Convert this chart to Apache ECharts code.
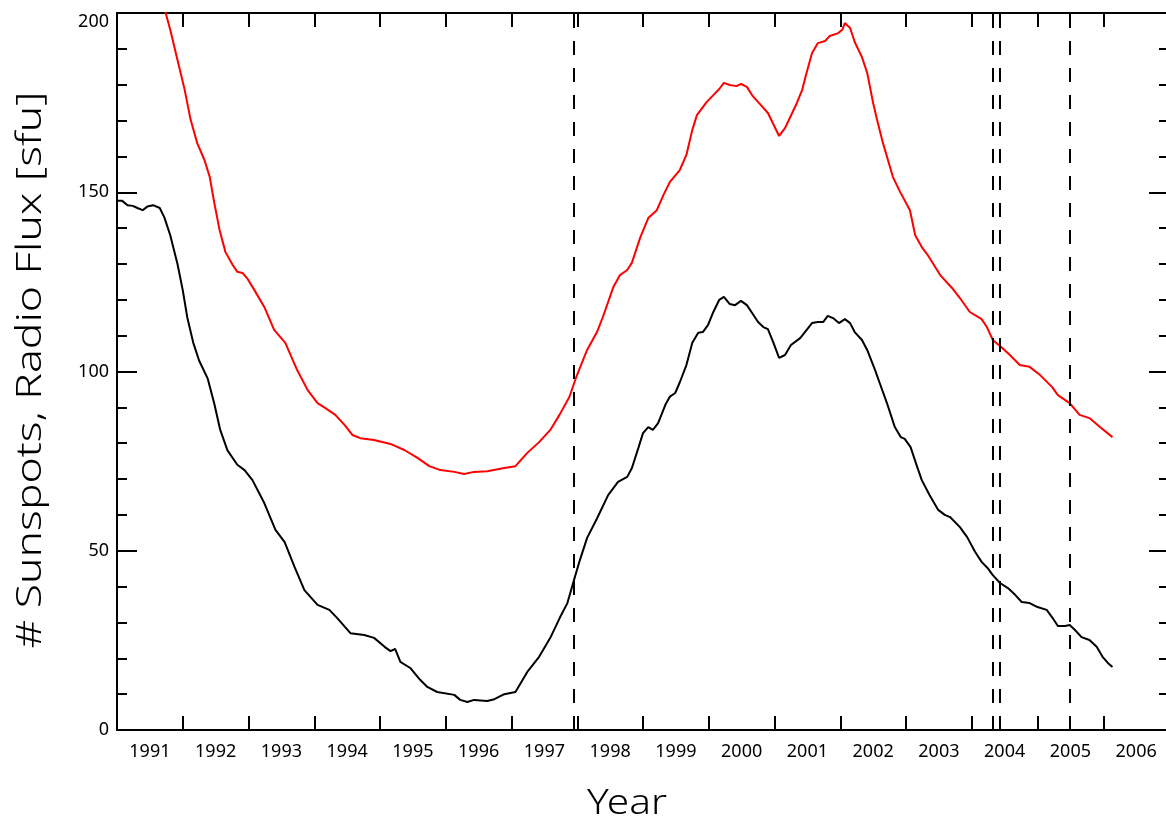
<!DOCTYPE html>
<html>
<head>
<meta charset="utf-8">
<script src="https://cdn.jsdelivr.net/npm/echarts@6/dist/echarts.min.js"></script>
<style>
html,body{margin:0;padding:0;background:#fff;}
#chart{width:1166px;height:818px;}
</style>
</head>
<body>
<div id="chart"></div>
<script>
// Year tick labels (centred on each year)
var yearLabels = ['1991','1992','1993','1994','1995','1996','1997','1998','1999','2000','2001','2002','2003','2004','2005','2006'];
var yTicks = [0, 50, 100, 150, 200];

// Smoothed sunspot number (black)
var sunspotYears = [1990.51,1990.58,1990.66,1990.74,1990.81,1990.89,1990.96,1991.05,1991.15,1991.22,1991.31,1991.42,1991.50,1991.57,1991.66,1991.75,1991.88,1991.98,1992.07,1992.18,1992.33,1992.44,1992.56,1992.74,1992.91,1993.05,1993.20,1993.35,1993.55,1993.73,1993.85,1994.05,1994.26,1994.41,1994.57,1994.66,1994.73,1994.81,1994.96,1995.11,1995.22,1995.37,1995.63,1995.72,1995.83,1995.93,1996.13,1996.24,1996.39,1996.56,1996.74,1996.92,1997.09,1997.24,1997.35,1997.45,1997.54,1997.65,1997.80,1997.97,1998.12,1998.26,1998.33,1998.43,1998.50,1998.58,1998.65,1998.73,1998.84,1998.91,1998.99,1999.06,1999.16,1999.25,1999.34,1999.41,1999.49,1999.57,1999.66,1999.73,1999.82,1999.90,1999.99,2000.08,2000.16,2000.25,2000.33,2000.40,2000.48,2000.57,2000.66,2000.75,2000.89,2000.99,2001.07,2001.16,2001.24,2001.31,2001.39,2001.48,2001.57,2001.65,2001.72,2001.83,2001.91,2002.03,2002.10,2002.21,2002.33,2002.42,2002.48,2002.57,2002.67,2002.74,2002.86,2002.99,2003.09,2003.17,2003.32,2003.43,2003.55,2003.65,2003.74,2003.82,2003.93,2004.05,2004.16,2004.26,2004.38,2004.50,2004.64,2004.72,2004.81,2004.92,2004.99,2005.07,2005.17,2005.29,2005.40,2005.49,2005.57,2005.64];
var sunspotValues = [147.6,147.6,146.4,146.2,145.6,145.0,146.0,146.4,145.6,143.0,138.0,130.0,122.7,115.0,108.0,103.0,98.0,91.0,83.7,78.0,74.0,72.5,69.7,63.3,55.8,52.4,45.5,39.0,34.9,33.5,31.2,27.0,26.5,25.7,23.2,22.0,22.6,19.0,17.3,14.0,12.0,10.6,9.8,8.4,7.8,8.4,8.1,8.6,10.0,10.6,16.2,20.4,25.7,31.5,35.4,41.8,47.4,53.6,59.0,65.5,69.2,70.6,73.0,78.7,82.8,84.5,83.7,85.6,90.7,93.0,94.0,97.0,101.8,108.0,110.8,111.0,113.0,116.6,120.0,120.8,118.8,118.5,119.7,118.5,116.3,113.8,112.4,111.8,108.2,103.8,104.6,107.4,109.3,111.6,113.5,113.8,113.8,115.5,114.9,113.5,114.6,113.5,111.0,108.8,106.0,100.4,96.8,91.2,84.5,81.7,81.2,78.9,73.4,69.7,65.5,61.4,60.0,59.4,56.6,53.8,49.7,46.9,45.2,43.2,41.0,39.6,37.7,35.7,35.4,34.3,33.5,31.5,29.0,29.0,29.3,27.9,25.9,25.1,23.2,20.4,18.7,17.6];

// 10.7 cm radio flux (red)
var fluxYears = [1991.16,1991.24,1991.31,1991.42,1991.53,1991.62,1991.72,1991.83,1991.91,1991.98,1992.06,1992.15,1992.26,1992.33,1992.41,1992.48,1992.59,1992.74,1992.89,1993.06,1993.24,1993.40,1993.55,1993.67,1993.82,1993.96,1994.08,1994.20,1994.41,1994.66,1994.87,1995.07,1995.25,1995.42,1995.63,1995.78,1995.93,1996.13,1996.39,1996.56,1996.74,1996.92,1997.09,1997.23,1997.38,1997.48,1997.65,1997.80,1997.89,1998.05,1998.15,1998.26,1998.33,1998.46,1998.58,1998.71,1998.81,1998.91,1999.06,1999.16,1999.25,1999.32,1999.47,1999.57,1999.66,1999.73,1999.82,1999.92,1999.99,2000.08,2000.17,2000.28,2000.40,2000.57,2000.66,2000.74,2000.84,2000.92,2000.99,2001.07,2001.16,2001.27,2001.34,2001.47,2001.53,2001.57,2001.65,2001.72,2001.83,2001.91,2002.00,2002.06,2002.15,2002.30,2002.41,2002.56,2002.64,2002.74,2002.83,2003.02,2003.20,2003.32,2003.47,2003.65,2003.73,2003.82,2003.96,2004.08,2004.23,2004.38,2004.54,2004.72,2004.81,2004.99,2005.14,2005.29,2005.45,2005.64];
var fluxValues = [205.0,200.0,195.3,186.9,178.5,170.2,163.7,159.0,154.3,147.0,139.5,133.3,129.7,127.8,127.5,126.0,122.7,118.0,111.6,108.0,100.4,94.8,91.2,89.8,87.9,85.1,82.3,81.4,80.9,79.8,78.1,75.9,73.6,72.5,72.0,71.4,72.0,72.2,73.1,73.6,77.3,80.3,83.7,87.9,92.9,98.2,106.0,111.0,115.2,123.6,126.9,128.3,130.3,137.5,142.8,145.0,149.2,152.9,156.2,160.4,167.4,171.5,175.2,177.1,178.8,180.5,179.9,179.6,180.2,179.4,176.8,174.6,172.1,165.7,167.9,171.0,174.9,178.5,183.5,188.8,191.6,192.2,193.6,194.4,195.3,197.2,195.8,191.9,187.7,183.3,174.9,170.2,163.7,154.3,150.1,145.0,138.0,134.7,132.5,126.9,123.3,120.5,116.6,114.6,112.4,108.8,106.6,104.6,101.8,101.3,99.0,95.7,93.4,91.2,87.9,87.0,84.5,81.7];

// Event markers (vertical dashed lines)
var eventYears = [1997.45, 2003.82, 2003.93, 2004.99];

function pairs(xs, ys) { return xs.map(function (x, i) { return [x, ys[i]]; }); }

var FONT = 'Noto Sans';
var chart = echarts.init(document.getElementById('chart'), null, {renderer: 'canvas'});
var axisLineStyle = {color: '#000', width: 2};
var option = {
  animation: false,
  backgroundColor: '#fff',
  grid: {left: 117, top: 13, width: 1052, height: 717, containLabel: false, outerBoundsMode: 'none'},
  xAxis: [
    {
      type: 'value', position: 'bottom', min: 1990.5, max: 2006.5, interval: 1,
      axisLine: {show: true, onZero: false, lineStyle: axisLineStyle},
      axisTick: {show: true, inside: true, length: 14, lineStyle: {color: '#000', width: 2}},
      axisLabel: {show: false}, splitLine: {show: false}
    },
    {
      type: 'value', position: 'top', min: 1990.5, max: 2006.5, interval: 1,
      axisLine: {show: true, onZero: false, lineStyle: axisLineStyle},
      axisTick: {show: true, inside: true, length: 14, lineStyle: {color: '#000', width: 2}},
      axisLabel: {show: false}, splitLine: {show: false}
    },
    {
      type: 'category', position: 'bottom', data: yearLabels, boundaryGap: true,
      axisLine: {show: false}, axisTick: {show: false}, splitLine: {show: false},
      axisLabel: {show: true, color: '#000', fontFamily: FONT, fontSize: 18, margin: 13, interval: 0}
    }
  ],
  yAxis: [
    {
      type: 'value', position: 'left', min: 0, max: 200, interval: 50,
      axisLine: {show: true, onZero: false, lineStyle: axisLineStyle},
      axisTick: {show: true, inside: true, length: 20, lineStyle: {color: '#000', width: 2}},
      minorTick: {show: true, splitNumber: 5, length: 10, lineStyle: {color: '#000', width: 2}},
      axisLabel: {show: true, color: '#000', fontFamily: FONT, fontSize: 18, margin: 8,
        verticalAlignMaxLabel: 'top',
        formatter: function (v) { return yTicks.indexOf(v) >= 0 ? String(v) : ''; }},
      splitLine: {show: false}
    },
    {
      type: 'value', position: 'right', min: 0, max: 200, interval: 50,
      axisLine: {show: true, onZero: false, lineStyle: axisLineStyle},
      axisTick: {show: true, inside: true, length: 20, lineStyle: {color: '#000', width: 2}},
      minorTick: {show: true, splitNumber: 5, length: 10, lineStyle: {color: '#000', width: 2}},
      axisLabel: {show: false}, splitLine: {show: false}
    }
  ],
  series: [
    {
      name: 'Sunspots', type: 'line', xAxisIndex: 0, yAxisIndex: 0,
      data: pairs(sunspotYears, sunspotValues), showSymbol: false, symbol: 'none',
      lineStyle: {color: '#000', width: 2}, clip: true, z: 3,
      markLine: {
        silent: true, symbol: ['none', 'none'], label: {show: false},
        lineStyle: {color: '#000', type: [14, 13], width: 2},
        data: eventYears.map(function (y) { return {xAxis: y}; })
      }
    },
    {
      name: 'Radio Flux', type: 'line', xAxisIndex: 0, yAxisIndex: 0,
      data: pairs(fluxYears, fluxValues), showSymbol: false, symbol: 'none',
      lineStyle: {color: '#ff0000', width: 2}, clip: true, z: 3
    }
  ],
  graphic: [
    {
      type: 'text', x: 627, y: 804, scaleX: 1.16, silent: true,
      style: {text: 'Year', fill: '#000', font: '300 35px "' + FONT + '"', textAlign: 'center', textVerticalAlign: 'middle'}
    },
    {
      type: 'text', x: 31, y: 370, rotation: Math.PI / 2, scaleX: 1.27, silent: true,
      style: {text: '# Sunspots, Radio Flux [sfu]', fill: '#000', font: '300 35px "' + FONT + '"', textAlign: 'center', textVerticalAlign: 'middle'}
    }
  ]
};
chart.setOption(option);
</script>
</body>
</html>
